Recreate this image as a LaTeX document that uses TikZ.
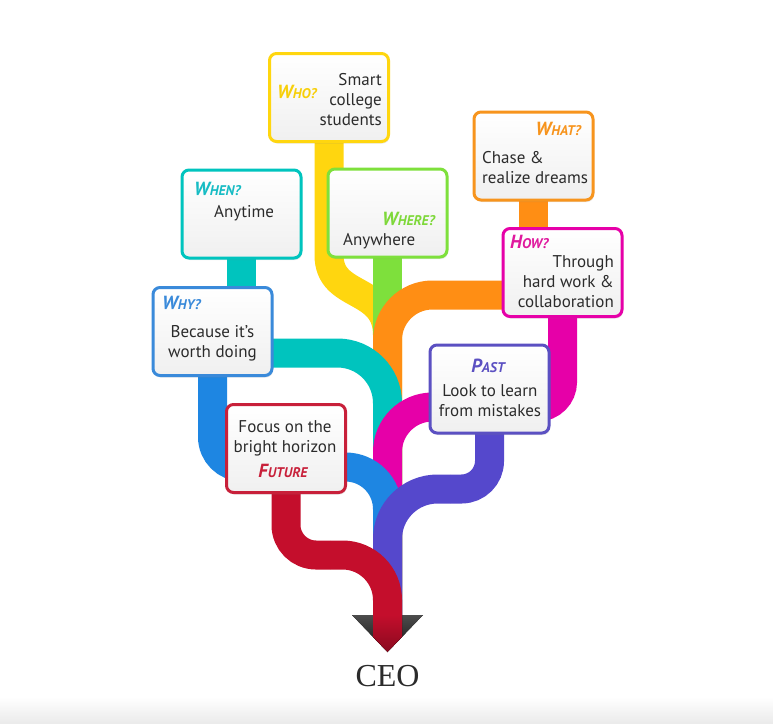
\documentclass[tikz,border=0pt]{standalone}
\usepackage{fontspec}
\setmainfont{PT Sans}
\newfontfamily\ceofont{Liberation Serif}
\usetikzlibrary{shadows}
\definecolor{cYel}{HTML}{FFD60F}
\definecolor{cTea}{HTML}{00C4BE}
\definecolor{cGrn}{HTML}{7EE03C}
\definecolor{cOra}{HTML}{FF8E14}
\definecolor{cMag}{HTML}{E600A8}
\definecolor{cBlu}{HTML}{1E86E2}
\definecolor{cPur}{HTML}{5548CC}
\definecolor{cRed}{HTML}{C40E2C}
\definecolor{hYel}{HTML}{F7CF0A}
\definecolor{hTea}{HTML}{17BCC4}
\definecolor{hGrn}{HTML}{7ED83A}
\definecolor{hOra}{HTML}{F7941D}
\definecolor{hMag}{HTML}{E0189E}
\definecolor{hBlu}{HTML}{3A8ADA}
\definecolor{hPur}{HTML}{5B50C2}
\definecolor{hRed}{HTML}{C8203A}
\definecolor{tx}{HTML}{2B2B2B}
\newcommand\hdr[2]{{\itshape\bfseries\fontsize{19}{20}\selectfont #1\fontsize{14}{20}\selectfont #2}}
\newcommand\lines[2]{\begin{tabular}[t]{@{}#1@{}}#2\end{tabular}}
\tikzset{
  band/.style={line width=29pt, draw=#1},
  box/.style={draw=#1, line width=3pt, rounded corners=7pt, minimum width=119pt,
    minimum height=88pt, inner sep=0pt, top color=white, bottom color=black!6,
    drop shadow={opacity=0.18, shadow xshift=1pt, shadow yshift=-2pt}},
  txt/.style={text=tx, font=\fontsize{17}{20}\selectfont, inner sep=0pt},
  hd/.style={text=#1, inner sep=0pt},
}
\begin{document}
\begin{tikzpicture}[x=1pt, y=-1pt]
\useasboundingbox (0,0) rectangle (773,723);
\fill[white] (0,0) rectangle (773,697);
\fill[top color=white, bottom color=black!8] (0,697) rectangle (773,723);

% box positions (nodes drawn later, coordinates defined first)
\coordinate (cWho) at (329,97.5);
\coordinate (cWhen) at (241.5,214);
\coordinate (cWhere) at (387.5,213);
\coordinate (cWhat) at (533.5,156);
\coordinate (cHow) at (562.5,272.5);
\coordinate (cWhy) at (212.5,331.5);
\coordinate (cPast) at (489.5,389);
\coordinate (cFut) at (286,448.5);

\coordinate (ceo) at (387.5,616);
\coordinate (y1) at (329,255);
\coordinate (y2) at (387.5,335);
\coordinate (o1) at (387.5,295);
\coordinate (t1) at (387.5,353);
\coordinate (m0) at (562.5,407);
\coordinate (mm) at (480,407);
\coordinate (m1) at (387.5,407);
\coordinate (b0) at (212.5,467);
\coordinate (bm) at (300,467);
\coordinate (b1) at (387.5,467);
\coordinate (p0) at (489.5,489);
\coordinate (pm) at (450,489);
\coordinate (p1) at (387.5,489);
\coordinate (r0) at (286,555);
\coordinate (rm) at (330,555);
\coordinate (r1) at (387.5,555);

% stubs between boxes
\draw[band=cTea] (cWhen) -- (cWhen |- cWhy);
\draw[band=cOra] (cWhat) -- (cWhat |- cHow);

% bands
\draw[band=cYel] (cWho) -- (y1) .. controls (329,300) and (387.5,285) .. (y2) -- (ceo);
\draw[band=cGrn] (cWhere) -- (ceo);
\draw[band=cOra, rounded corners=45pt] (cHow |- o1) -- (o1) -- (ceo);
\draw[band=cTea, rounded corners=50pt] (cWhy |- t1) -- (t1) -- (ceo);
\draw[band=cMag, rounded corners=25pt] (cHow) -- (m0) -- (mm);
\draw[band=cMag, rounded corners=45pt] (mm) -- (m1) -- (ceo);
\draw[band=cBlu, rounded corners=30pt] (cWhy) -- (b0) -- (bm);
\draw[band=cBlu, rounded corners=42pt] (bm) -- (b1) -- (ceo);
\draw[band=cPur, rounded corners=28pt] (cPast) -- (p0) -- (pm);
\draw[band=cPur, rounded corners=50pt] (pm) -- (p1) -- (ceo);
\draw[band=cRed, rounded corners=30pt] (cFut) -- (r0) -- (rm);
\draw[band=cRed, rounded corners=45pt] (rm) -- (r1) -- (ceo);

% arrow head
\coordinate (tip) at (387.5,652);
\fill[top color=black!70, bottom color=black!92] (352,615) -- (423,615) -- (tip) -- cycle;
\fill[top color=cRed, bottom color=cRed!70!black] (373,615) -- (402,615) -- (402,636.9) -- (tip) -- (373,636.9) -- cycle;

% boxes
\node[box=cYel] (who) at (cWho) {};
\node[box=cTea] (when) at (cWhen) {};
\node[box=cGrn] (where) at (cWhere) {};
\node[box=hOra] (what) at (cWhat) {};
\node[box=cMag] (how) at (cHow) {};
\node[box=hBlu] (why) at (cWhy) {};
\node[box=hPur] (past) at (cPast) {};
\node[box=hRed] (future) at (cFut) {};

% texts
\node[hd=hYel, anchor=base west] (whoH) at (277,98) {\hdr{W}{HO?}};
\node[txt, anchor=base east] (whoT) at (382,85) {\lines{r}{Smart\\college\\students}};

\node[hd=hTea, anchor=base west] (whenH) at (194,195) {\hdr{W}{HEN?}};
\node[txt, anchor=base west] (whenT) at (214,217) {Anytime};

\node[hd=hGrn, anchor=base east] (whereH) at (435,225) {\hdr{W}{HERE?}};
\node[txt, anchor=base west] (whereT) at (343,245) {Anywhere};

\node[hd=hOra, anchor=base east] (whatH) at (581,135) {\hdr{W}{HAT?}};
\node[txt, anchor=base west] (whatT) at (482,163) {\lines{l}{Chase \&\\realize dreams}};

\node[hd=hMag, anchor=base west] (howH) at (510,248) {\hdr{H}{OW?}};
\node[txt, anchor=base east] (howT) at (614,267) {\lines{r}{Through\\hard work \&\\collaboration}};

\node[hd=hBlu, anchor=base west] (whyH) at (162,309) {\hdr{W}{HY?}};
\node[txt, anchor=base] (whyT) at (212.5,337) {\lines{c}{Because it’s\\worth doing}};

\node[hd=hPur, anchor=base] (pastH) at (488,372) {\hdr{P}{AST}};
\node[txt, anchor=base] (pastT) at (490,396) {\lines{c}{Look to learn\\from mistakes}};

\node[txt, anchor=base] (futT) at (285,432) {\lines{c}{Focus on the\\bright horizon}};
\node[hd=hRed, anchor=base] (futH) at (283,477) {\hdr{F}{UTURE}};

\node[text=tx, inner sep=0pt, anchor=base, font=\ceofont\fontsize{32}{32}\selectfont] (ceoT) at (387.5,686) {CEO};
\end{tikzpicture}
\end{document}
